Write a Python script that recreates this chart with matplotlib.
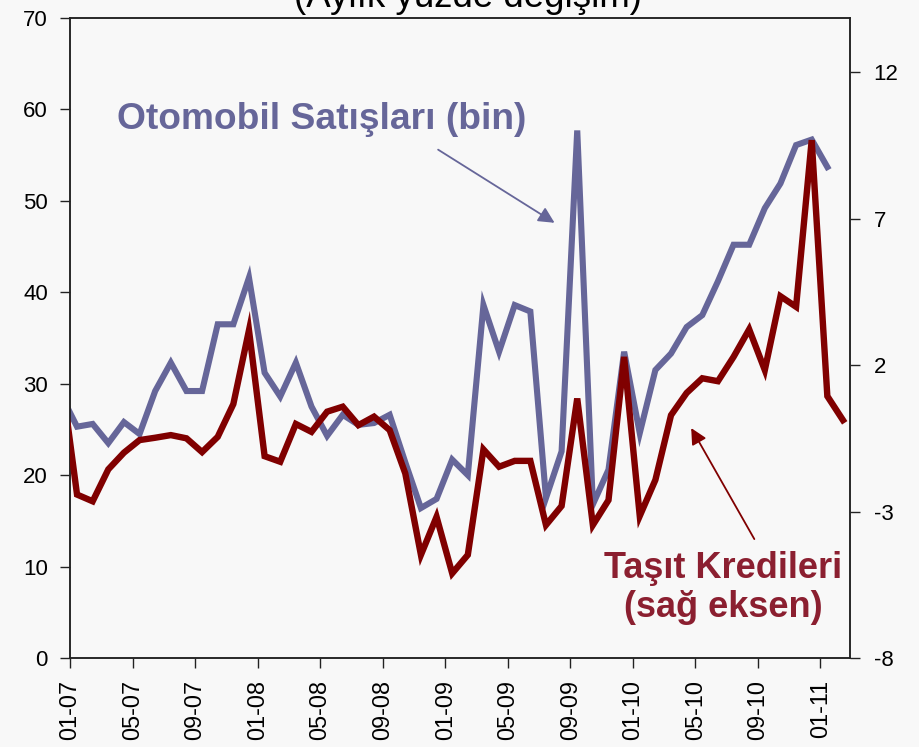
import numpy as np
import matplotlib
matplotlib.use('Agg')
import matplotlib.pyplot as plt

plt.rcParams['font.family'] = ['Liberation Sans', 'DejaVu Sans']

# monthly data, Dec-06 .. Feb-11
months = ['12-06'] + ['%02d-%02d' % (m, y) for y in range(7, 12) for m in range(1, 13)][:50]

# Otomobil satislari (bin) - left axis, Dec-06 .. Jan-11
oto = [28.7, 25.3, 25.6, 23.5, 25.8, 24.5, 29.2, 32.3, 29.2, 29.2,
       36.5, 36.5, 41.6, 31.2, 28.6, 32.3, 27.5, 24.3, 26.6, 25.5,
       25.7, 26.6, 21.4, 16.4, 17.4, 21.7, 20.0, 38.6, 33.5, 38.6,
       37.9, 17.5, 22.6, 57.7, 16.8, 20.6, 33.5, 24.6, 31.5, 33.3,
       36.2, 37.5, 41.2, 45.2, 45.2, 49.2, 51.9, 56.1, 56.7, 53.7]

# Tasit kredileri (aylik % degisim) - right axis, Dec-06 .. Feb-11
kredi = [1.6, -2.42, -2.65, -1.56, -0.99, -0.56, -0.48, -0.39, -0.5, -0.97,
         -0.45, 0.67, 3.19, -1.11, -1.30, -0.01, -0.28, 0.41, 0.58, -0.05,
         0.24, -0.22, -1.7, -4.48, -3.18, -5.11, -4.48, -0.88, -1.47, -1.27,
         -1.27, -3.46, -2.81, 0.86, -3.46, -2.61, 2.28, -3.15, -1.92, 0.29,
         1.05, 1.55, 1.45, 2.28, 3.22, 1.83, 4.35, 3.99, 9.68, 0.94, 0.12]

tick_labels = ['01-07', '05-07', '09-07', '01-08', '05-08', '09-08', '01-09',
               '05-09', '09-09', '01-10', '05-10', '09-10', '01-11']

left_ticks = [0, 10, 20, 30, 40, 50, 60, 70]
right_ticks = [-8, -3, 2, 7, 12]

BLUE = '#666699'
RED = '#800000'
RED_TXT = '#8B1F30'
BG = '#f8f8f8'

# points sit mid-month, ticks at month start (01-07 = 0)
x_oto = np.arange(len(oto)) - 1 + 0.45
x_kredi = np.arange(len(kredi)) - 1 + 0.45
x_ticks = [months.index(t) - 1 for t in tick_labels]

fig = plt.figure(figsize=(9.19, 7.47), dpi=100, facecolor=BG)
ax = fig.add_axes([70 / 919, 89 / 747, 780 / 919, 640 / 747], facecolor=BG)
ax2 = ax.twinx()

ax.plot(x_oto, oto, color=BLUE, lw=4.4, solid_joinstyle='miter', zorder=2)
ax2.plot(x_kredi, kredi, color=RED, lw=4.6, solid_joinstyle='miter', zorder=3)

ax.set_xlim(0, 49.9)
ax.set_ylim(0, 70)
ax2.set_ylim(-8, 13.85)

ax.set_xticks(x_ticks)
ax.set_xticklabels(tick_labels, rotation=90, fontsize=16.8)
ax.set_yticks(left_ticks)
ax.set_yticklabels([str(v) for v in left_ticks], fontsize=16)
ax2.set_yticks(right_ticks)
ax2.set_yticklabels([str(v) for v in right_ticks], fontsize=16)

ax.tick_params(axis='x', length=7, width=1, pad=9, color='#222222')
ax.tick_params(axis='y', length=7, width=1, pad=9, color='#222222')
ax2.tick_params(axis='y', length=7, width=1, pad=10, color='#222222')
for a in (ax, ax2):
    for s in a.spines.values():
        s.set_color('#222222')
        s.set_linewidth(1.1)

# labels and arrows
ax.text(16.1, 58.9, 'Otomobil Satışları (bin)', color=BLUE, fontsize=26.7,
        fontweight='bold', ha='center', va='center')
ax.annotate('', xy=(31.0, 47.6), xytext=(23.55, 55.6),
            arrowprops=dict(arrowstyle='-|>', color=BLUE, lw=1.3,
                            mutation_scale=24, shrinkA=0, shrinkB=0))

ax.text(41.8, 7.7, 'Taşıt Kredileri\n(sağ eksen)', color=RED_TXT, fontsize=26,
        fontweight='bold', ha='center', va='center', linespacing=1.15)
ax2.annotate('', xy=(39.74, -0.15), xytext=(43.78, -3.94),
             arrowprops=dict(arrowstyle='-|>', color=RED, lw=1.3,
                             mutation_scale=24, shrinkA=0, shrinkB=0))

# chart title, cut by the top edge as in the source
fig.text(467.5 / 919, 1 - 7 / 747, '(Aylık yüzde değişim)', fontsize=26.4,
         ha='center', va='baseline')

fig.savefig('out.png', dpi=100, facecolor=BG)
